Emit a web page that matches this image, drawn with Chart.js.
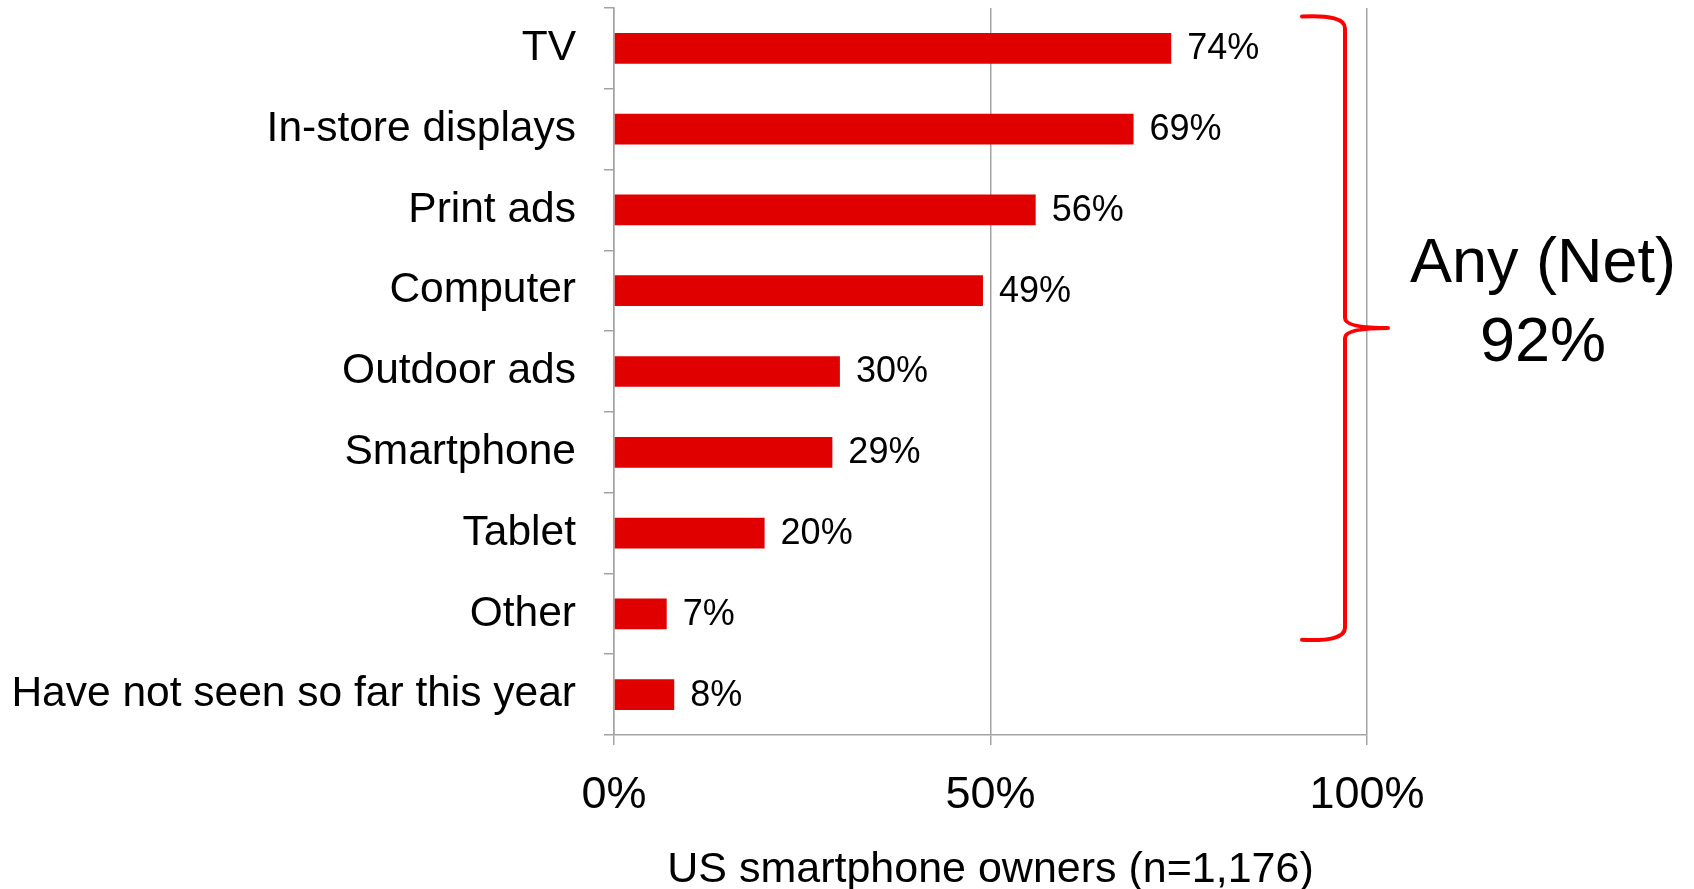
<!DOCTYPE html>
<html>
<head>
<meta charset="utf-8">
<script src="https://cdn.jsdelivr.net/npm/chart.js@4.4.1/dist/chart.umd.min.js"></script>
<style>
  html, body { margin: 0; padding: 0; background: #fff; }
  #wrap { width: 1694px; height: 889px; position: relative; }
</style>
</head>
<body>
<div id="wrap"><canvas id="myChart"></canvas></div>
<script>

const categorias = ['TV', 'In-store displays', 'Print ads', 'Computer', 'Outdoor ads', 'Smartphone', 'Tablet', 'Other', 'Have not seen so far this year']
const valores = [74, 69, 56, 49, 30, 29, 20, 7, 8]
const ticksX = [0, 50, 100]
const tituloX = 'US smartphone owners (n=1,176)'
const netoTexto = ['Any (Net)', '92%']
const netoDesde = 0   // TV
const netoHasta = 7   // Other

const gris = '#a3a3a3'
const fuente = '"Liberation Sans", Arial, sans-serif'

// etiquetas de valor al final de cada barra
const etiquetas = {
  id: 'etiquetas',
  afterDatasetsDraw(chart) {
    const ctx = chart.ctx
    const meta = chart.getDatasetMeta(0)
    ctx.save()
    ctx.font = '36px ' + fuente
    ctx.fillStyle = '#000'
    ctx.textAlign = 'left'
    ctx.textBaseline = 'middle'
    meta.data.forEach((bar, i) => {
      ctx.fillText(valores[i] + '%', bar.x + 16, bar.y + 1)
    })
    ctx.restore()
  }
}

// llave roja + texto Any (Net)
const llave = {
  id: 'llave',
  afterDraw(chart) {
    const ctx = chart.ctx
    const y = chart.scales.y
    const area = chart.chartArea
    const top = y.getPixelForValue(netoDesde) - 32
    const bot = y.getPixelForValue(netoHasta) + 26
    const mid = (top + bot) / 2
    const xL = area.right - 65
    const xV = area.right - 22
    const xT = area.right + 21

    ctx.save()
    ctx.strokeStyle = '#ff0000'
    ctx.lineWidth = 4
    ctx.lineJoin = 'round'
    ctx.lineCap = 'round'
    ctx.beginPath()
    ctx.moveTo(xL, top)
    ctx.quadraticCurveTo(xV, top - 2, xV, top + 12)
    ctx.lineTo(xV, mid - 10)
    ctx.quadraticCurveTo(xV, mid, xT, mid)
    ctx.quadraticCurveTo(xV, mid, xV, mid + 10)
    ctx.lineTo(xV, bot - 12)
    ctx.quadraticCurveTo(xV, bot + 2, xL, bot)
    ctx.stroke()

    ctx.fillStyle = '#000'
    ctx.font = '63px ' + fuente
    ctx.textAlign = 'center'
    ctx.textBaseline = 'middle'
    ctx.fillText(netoTexto[0], area.right + 176, mid - 63)
    ctx.fillText(netoTexto[1], area.right + 176, mid + 16)
    ctx.restore()
  }
}

const data = {
  labels: categorias,
  datasets: [{
    label: 'US smartphone owners',
    backgroundColor: '#e10000',
    data: valores,
    barPercentage: 0.38,
    categoryPercentage: 1
  }]
}

const config = {
  type: 'bar',
  data: data,
  plugins: [etiquetas, llave],
  options: {
    indexAxis: 'y',
    responsive: true,
    maintainAspectRatio: false,
    animation: false,
    layout: { padding: { top: 8, right: 327, left: 0, bottom: 0 } },
    plugins: {
      legend: { display: false },
      tooltip: { enabled: false }
    },
    scales: {
      x: {
        min: 0,
        max: 100,
        afterBuildTicks: (s) => { s.ticks = ticksX.map(v => ({ value: v })) },
        afterFit: (s) => { s.height = 154; s.paddingLeft = 0; s.paddingRight = 0 },
        ticks: {
          color: '#000',
          font: { family: fuente, size: 45 },
          padding: 24,
          maxRotation: 0,
          callback: (v) => v + '%'
        },
        grid: { color: gris, lineWidth: 1.5, tickLength: 10 },
        border: { color: gris, width: 1.5 },
        title: {
          display: true,
          text: tituloX,
          color: '#000',
          font: { family: fuente, size: 43, lineHeight: 1 },
          padding: { top: 0, bottom: -3 }
        }
      },
      y: {
        afterFit: (s) => { s.width = 614; s.paddingTop = 0; s.paddingBottom = 0 },
        ticks: {
          color: '#000',
          font: { family: fuente, size: 42.5 },
          padding: 28,
          autoSkip: false
        },
        grid: { offset: true, drawOnChartArea: false, color: gris, lineWidth: 1.5, tickLength: 10 },
        border: { color: gris, width: 1.5 }
      }
    }
  }
}

const myChart = new Chart(
  document.getElementById('myChart'),
  config
)

</script>
</body>
</html>
